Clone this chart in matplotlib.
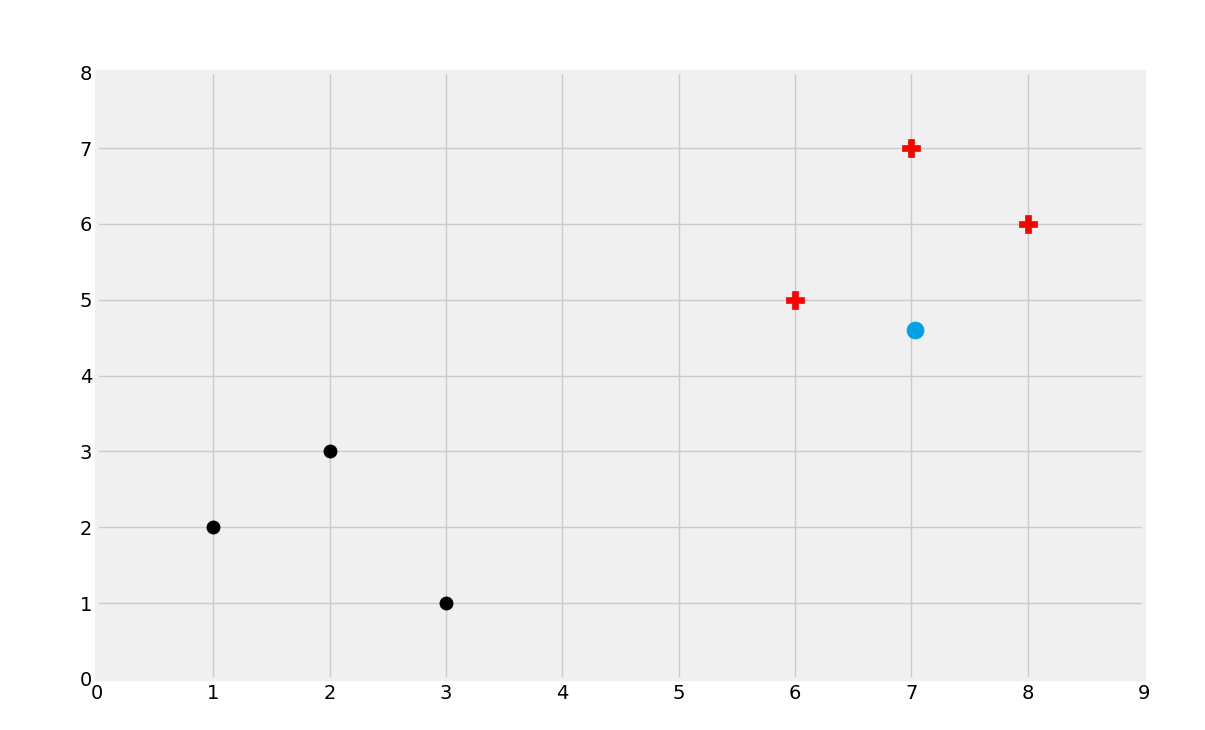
import matplotlib
matplotlib.use("Agg")
from matplotlib import pyplot as plt
from matplotlib import style

style.use('fivethirtyeight')

# data
k_x = [1, 2, 3]
k_y = [2, 3, 1]
r_x = [6, 7, 8]
r_y = [5, 7, 6]
new_point = [7.03, 4.6]

fig = plt.figure(figsize=(12.05, 7.3), dpi=100)
fig.patch.set_facecolor('white')
fig.subplots_adjust(left=0.0805, right=0.9495, bottom=0.07, top=0.901)
ax = fig.add_subplot(111)

ax.scatter(k_x, k_y, s=90, color='k', marker='o', zorder=3)
ax.scatter(r_x, r_y, s=180, color='r', marker='P', zorder=3)
ax.scatter(new_point[0], new_point[1], s=150, color='#01a1e6', marker='o', zorder=3)

ax.set_xlim(0, 9)
ax.set_ylim(0, 8)

plt.savefig("out.png", facecolor='white')
